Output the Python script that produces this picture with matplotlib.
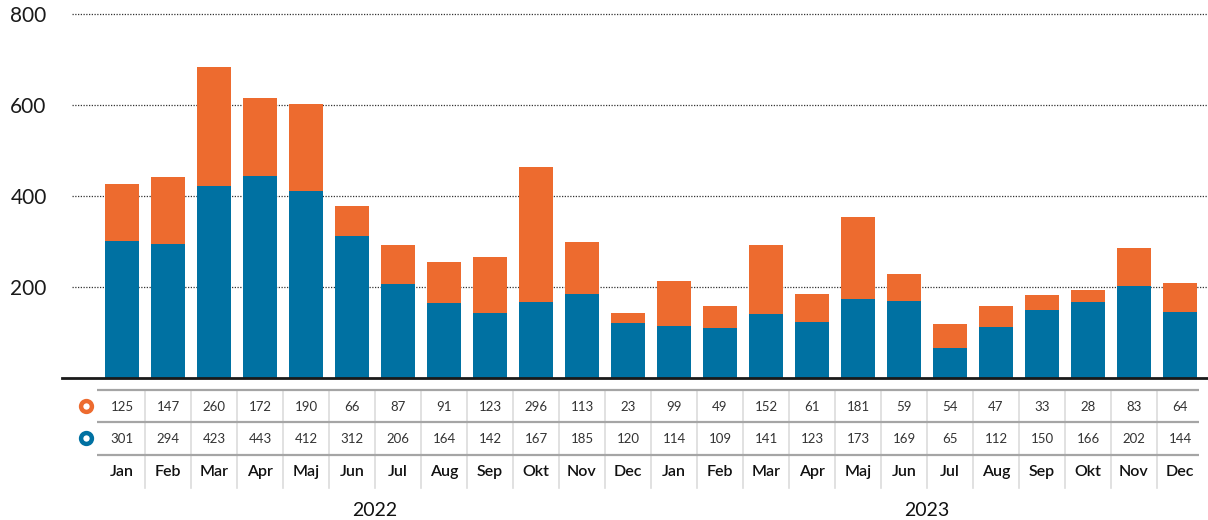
import numpy as np
import matplotlib.pyplot as plt

# Data
months = ['Jan', 'Feb', 'Mar', 'Apr', 'Maj', 'Jun', 'Jul', 'Aug', 'Sep', 'Okt', 'Nov', 'Dec'] * 2
years = ['2022', '2023']
orange_vals = [125, 147, 260, 172, 190, 66, 87, 91, 123, 296, 113, 23,
               99, 49, 152, 61, 181, 59, 54, 47, 33, 28, 83, 64]
blue_vals = [301, 294, 423, 443, 412, 312, 206, 164, 142, 167, 185, 120,
             114, 109, 141, 123, 173, 169, 65, 112, 150, 166, 202, 144]
yticks = [200, 400, 600, 800]

BLUE = '#0071a2'
ORANGE = '#ed6b2f'

plt.rcParams['font.family'] = ['Lato', 'DejaVu Sans']

W, H = 1208, 520
fig = plt.figure(figsize=(W / 100, H / 100), dpi=100)

x = np.arange(len(months))
xlim = ((62 - 122) / 46, (1208 - 122) / 46)

# main bar axes
ax = fig.add_axes([62 / W, (H - 378) / H, 1146 / W, 378 / H])
ax.bar(x, blue_vals, width=0.72, color=BLUE, zorder=2)
ax.bar(x, orange_vals, width=0.72, bottom=blue_vals, color=ORANGE, zorder=2)
for v in yticks:
    ax.axhline(v, xmin=10 / 1146, xmax=1, color='#333333', lw=0.9,
               ls=(0, (1, 1.2)), zorder=1)
ax.set_xlim(xlim)
ax.set_ylim(0, 378 / 0.455)
ax.set_xticks([])
ax.set_yticks(yticks)
ax.set_yticklabels([str(v) for v in yticks], fontsize=15, color='#1a1a1a')
ax.tick_params(axis='y', length=0, pad=11)
for s in ['top', 'right', 'left']:
    ax.spines[s].set_visible(False)
ax.spines['bottom'].set_linewidth(2)
ax.spines['bottom'].set_color('#1a1a1a')

# data table below
tb = fig.add_axes([62 / W, 0, 1146 / W, 142 / H])
tb.set_xlim(xlim)
tb.set_ylim(142, 0)
tb.axis('off')
t_left, t_right = (97 - 122) / 46, (1199 - 122) / 46
for y in [12, 44, 77]:
    tb.plot([t_left, t_right], [y, y], color='#a5a5a5', lw=1.6, solid_capstyle='butt')
for i in range(len(months) - 1):
    tb.plot([i + 0.5, i + 0.5], [12, 110], color='#dcdcdc', lw=1.2, zorder=0)
for i in x:
    tb.text(i, 29, str(orange_vals[i]), ha='center', va='center', fontsize=9.5, color='#333333')
    tb.text(i, 61, str(blue_vals[i]), ha='center', va='center', fontsize=9.5, color='#333333')
    tb.text(i, 94, months[i], ha='center', va='center', fontsize=11.5,
            fontweight='semibold', color='#111111')
icon_x = (86 - 122) / 46
tb.plot(icon_x, 28, marker='o', ms=7.8, mew=3.2, mfc='white', mec=ORANGE, clip_on=False)
tb.plot(icon_x, 60, marker='o', ms=7.8, mew=3.2, mfc='white', mec=BLUE, clip_on=False)
tb.text(5.5, 132, years[0], ha='center', va='center', fontsize=14, color='#111111')
tb.text(17.5, 132, years[1], ha='center', va='center', fontsize=14, color='#111111')

fig.savefig('out.png', dpi=100)
